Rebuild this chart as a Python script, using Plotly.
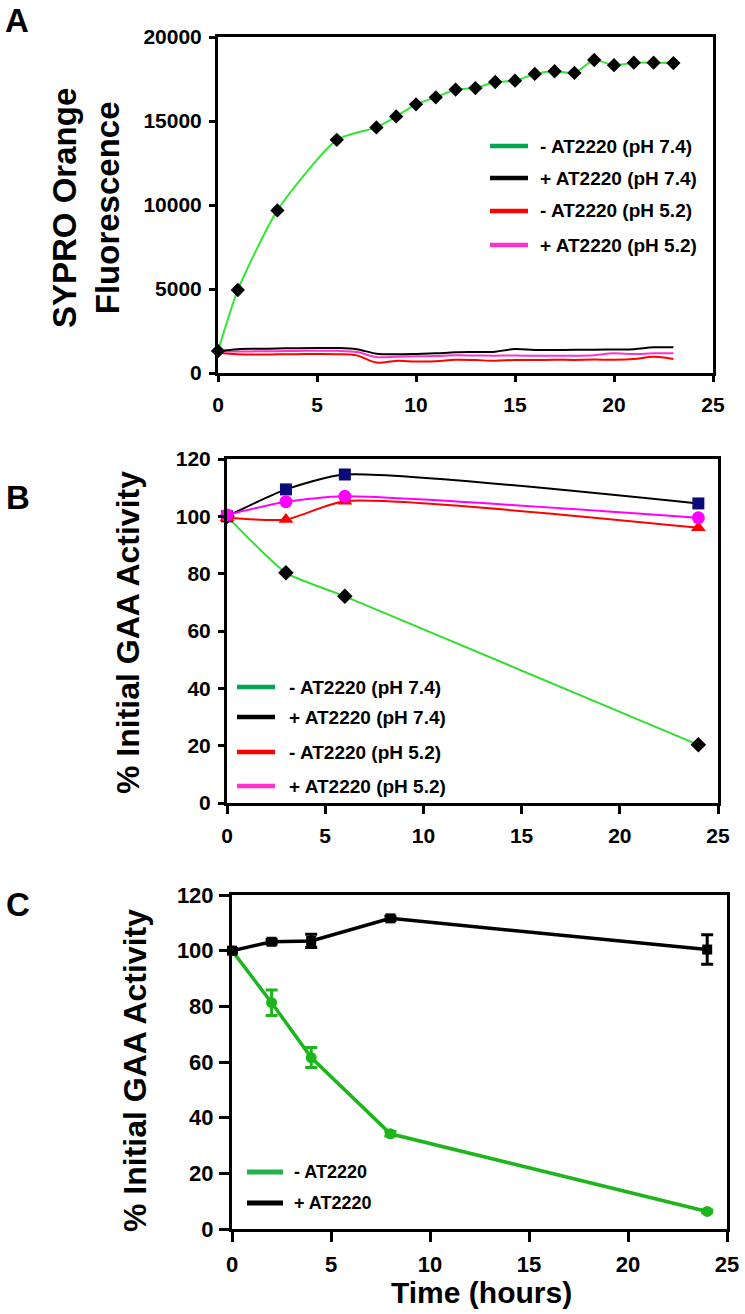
import plotly.graph_objects as go

W, H = 745, 1314
FONT = "Liberation Sans"

# ---------------- Panel A data ----------------
a_green_x = [0, 1, 3, 6, 8, 9, 10, 11, 12, 13, 14, 15, 16, 17, 18, 19, 20, 21, 22, 23]
a_green_y = [1310, 4940, 9680, 13880, 14620, 15270, 15990, 16410, 16870, 16960, 17320, 17400,
             17800, 17960, 17860, 18630, 18320, 18470, 18470, 18450]
a_hours = list(range(24))
a_black = [1300, 1420, 1440, 1460, 1480, 1490, 1490, 1420, 1150, 1110, 1130, 1170, 1230, 1250,
           1270, 1430, 1370, 1370, 1380, 1380, 1400, 1420, 1530, 1530]
a_magenta = [1300, 1280, 1290, 1300, 1310, 1330, 1320, 1250, 950, 960, 990, 1010, 1050, 1040,
             1030, 1040, 1030, 1020, 1030, 1060, 1170, 1130, 1170, 1170]
a_red = [1200, 1110, 1100, 1110, 1120, 1130, 1120, 1050, 620, 720, 690, 700, 790, 770, 730,
         780, 770, 790, 780, 800, 790, 830, 970, 830]

# ---------------- Panel B data ----------------
b_x = [0, 3, 6, 24]
b_green = [100, 80.3, 72.1, 20.3]
b_black = [100, 109.4, 114.6, 104.5]
b_magenta = [100.5, 105.1, 107.0, 99.5]
b_red = [99.5, 98.9, 105.3, 96.0]

# ---------------- Panel C data ----------------
c_x = [0, 2, 4, 8, 24]
c_green = [100, 81.3, 61.6, 34.2, 6.3]
c_green_err = [0.5, 4.6, 3.6, 0.8, 0.5]
c_black = [100, 103.2, 103.5, 111.6, 100.4]
c_black_err = [0.8, 0.8, 2.4, 0.8, 5.3]

legend_ph = ["- AT2220 (pH 7.4)", "+ AT2220 (pH 7.4)", "- AT2220 (pH 5.2)", "+ AT2220 (pH 5.2)"]
legend_c = ["- AT2220", "+ AT2220"]
legend_colors = ["#00a651", "#000000", "#ff0000", "#ff33cc"]
legend_colors_c = ["#22b24c", "#000000"]

x_ticks = [0, 5, 10, 15, 20, 25]
a_y_ticks = [0, 5000, 10000, 15000, 20000]
pct_ticks = [0, 20, 40, 60, 80, 100, 120]


def px(x):
    return x / W


def py(y):
    return 1 - y / H


fig = go.Figure()

# Panel A traces
for ys, col in [(a_red, "#ff0000"), (a_magenta, "#ff33cc"), (a_black, "#000000")]:
    fig.add_trace(go.Scatter(x=a_hours, y=ys, mode="lines", xaxis="x", yaxis="y",
                             line=dict(color=col, width=2, shape="spline", smoothing=1.0),
                             showlegend=False))
fig.add_trace(go.Scatter(x=a_green_x, y=a_green_y, mode="lines+markers", xaxis="x", yaxis="y",
                         line=dict(color="#33e833", width=2, shape="spline", smoothing=0.6),
                         marker=dict(symbol="diamond", size=11, color="black"),
                         cliponaxis=False, showlegend=False))

# Panel B traces
fig.add_trace(go.Scatter(x=b_x, y=b_green, mode="lines+markers", xaxis="x2", yaxis="y2",
                         line=dict(color="#33dd33", width=2, shape="spline", smoothing=0.5),
                         marker=dict(symbol="diamond", size=12, color="black"),
                         cliponaxis=False, showlegend=False))
fig.add_trace(go.Scatter(x=b_x, y=b_black, mode="lines+markers", xaxis="x2", yaxis="y2",
                         line=dict(color="#000000", width=2, shape="spline", smoothing=0.6),
                         marker=dict(symbol="square", size=12, color="#0a0a78"),
                         cliponaxis=False, showlegend=False))
fig.add_trace(go.Scatter(x=b_x, y=b_red, mode="lines+markers", xaxis="x2", yaxis="y2",
                         line=dict(color="#ff0000", width=2, shape="spline", smoothing=0.6),
                         marker=dict(symbol="triangle-up", size=13, color="#ff0000"),
                         cliponaxis=False, showlegend=False))
fig.add_trace(go.Scatter(x=b_x, y=b_magenta, mode="lines+markers", xaxis="x2", yaxis="y2",
                         line=dict(color="#ff00ff", width=2, shape="spline", smoothing=0.6),
                         marker=dict(symbol="circle", size=13, color="#ff00ff"),
                         cliponaxis=False, showlegend=False))

# Panel C traces
fig.add_trace(go.Scatter(x=c_x, y=c_green, mode="lines+markers", xaxis="x3", yaxis="y3",
                         line=dict(color="#1cb51c", width=3.5),
                         marker=dict(symbol="circle", size=11, color="#1cb51c"),
                         error_y=dict(type="data", array=c_green_err, color="#1cb51c",
                                      thickness=3, width=6),
                         cliponaxis=False, showlegend=False))
fig.add_trace(go.Scatter(x=c_x, y=c_black, mode="lines+markers", xaxis="x3", yaxis="y3",
                         line=dict(color="#000000", width=3.5),
                         marker=dict(symbol="square", size=10, color="#000000"),
                         error_y=dict(type="data", array=c_black_err, color="#000000",
                                      thickness=3, width=6),
                         cliponaxis=False, showlegend=False))


def axis(**kw):
    d = dict(showline=True, linewidth=3, linecolor="black", mirror=True,
             ticks="outside", ticklen=6, tickwidth=3, tickcolor="black",
             showgrid=False, zeroline=False, automargin=False, tickformat="d",
             tickfont=dict(family=FONT, size=21, color="black", weight="bold"))
    d.update(kw)
    return d


c_tickfont = dict(family=FONT, size=22, color="black", weight="bold")

fig.update_layout(
    width=W, height=H, margin=dict(l=0, r=0, t=0, b=0, autoexpand=False),
    paper_bgcolor="white", plot_bgcolor="white",
    xaxis=axis(domain=[px(218), px(713)], range=[0, 25], tickvals=x_ticks,
               anchor="y", ticklabelstandoff=5),
    yaxis=axis(domain=[py(373), py(37)], range=[0, 20000],
               tickvals=a_y_ticks, anchor="x", ticklabelstandoff=3),
    xaxis2=axis(domain=[px(227), px(718)], range=[0, 25], tickvals=x_ticks,
                anchor="y2", ticklen=8, ticklabelstandoff=4),
    yaxis2=axis(domain=[py(803), py(459)], range=[0, 120],
                tickvals=pct_ticks, anchor="x2", ticklabelstandoff=3),
    xaxis3=axis(domain=[px(232), px(727)], range=[0, 25], tickvals=x_ticks,
                anchor="y3", ticklen=10, ticklabelstandoff=4, tickfont=c_tickfont),
    yaxis3=axis(domain=[py(1229), py(895)], range=[0, 120],
                tickvals=pct_ticks, anchor="x3", ticklen=10, ticklabelstandoff=1,
                tickfont=c_tickfont),
)

annotations = []
shapes = []


def add_text(x, y, text, size, bold=False, xanchor="center", textangle=0):
    annotations.append(dict(x=px(x), y=py(y), xref="paper", yref="paper", text=text,
                            showarrow=False, xanchor=xanchor, yanchor="middle",
                            textangle=textangle,
                            font=dict(family=FONT, size=size, color="black",
                                      weight="bold" if bold else "normal")))


# panel letters
add_text(17, 20, "A", 33, bold=True)
add_text(18, 497, "B", 33, bold=True)
add_text(18, 904, "C", 33, bold=True)

# axis titles
add_text(86, 208, "SYPRO Orange<br>Fluorescence", 33, bold=True, textangle=-90)
add_text(128, 633, "% Initial GAA Activity", 32, bold=True, textangle=-90)
add_text(135, 1071, "% Initial GAA Activity", 32, bold=True, textangle=-90)
add_text(481, 1292, "Time (hours)", 30, bold=True)


def add_legend(x0, x1, xt, rows, labels, colors, size, width=4.5):
    for yy, lab, col in zip(rows, labels, colors):
        shapes.append(dict(type="line", xref="paper", yref="paper", x0=px(x0), x1=px(x1),
                           y0=py(yy), y1=py(yy), line=dict(color=col, width=width)))
        add_text(xt, yy, lab, size, bold=True, xanchor="left")


add_legend(490, 528, 538, [146, 178, 211, 245], legend_ph, legend_colors, 19)
add_legend(237, 275, 287, [687, 717, 752, 786], legend_ph, legend_colors, 19)
add_legend(247, 283, 292, [1172, 1203], legend_c, legend_colors_c, 18, width=5)

fig.update_layout(annotations=annotations, shapes=shapes)

fig.write_html("out.html", config={"displayModeBar": False},
               post_script="document.body.style.margin='0';document.body.style.padding='0';")
